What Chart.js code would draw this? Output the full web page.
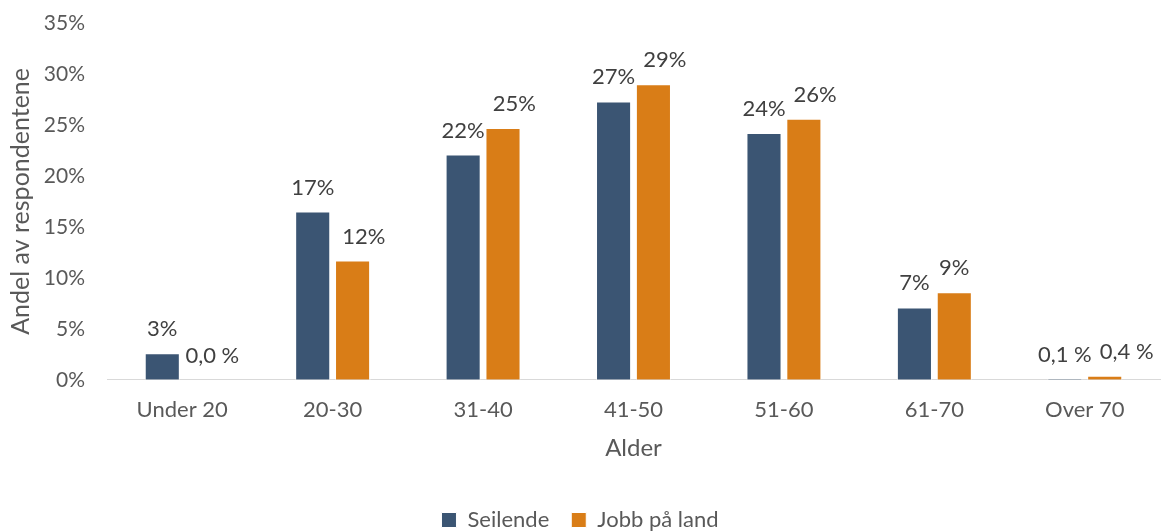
<!DOCTYPE html>
<html lang="no">
<head>
<meta charset="utf-8">
<title>Alder</title>
<script src="https://cdn.jsdelivr.net/npm/chart.js@4/dist/chart.umd.min.js"></script>
<style>
  html, body { margin: 0; padding: 0; background: #ffffff; }
  #wrap { width: 1163px; height: 531px; position: relative; }
</style>
</head>
<body>
<div id="wrap"><canvas id="alderChart"></canvas></div>
<script>
// Aldersfordeling, andel av respondentene (%)
const categories = ['Under 20', '20-30', '31-40', '41-50', '51-60', '61-70', 'Over 70'];
const seilende = [2.6, 16.5, 22.1, 27.3, 24.2, 7.1, 0.1];
const jobbPaLand = [0.0, 11.7, 24.7, 29.0, 25.6, 8.6, 0.4];
const seriesNames = ['Seilende', 'Jobb på land'];

const FONT = 'Lato, "Open Sans", sans-serif';

// små verdier vises med én desimal, ellers heltall
function formatLabel(v) {
  if (v < 1) return v.toFixed(1).replace('.', ',') + ' %';
  return Math.round(v) + '%';
}

const valueLabels = {
  id: 'valueLabels',
  afterDatasetsDraw(chart) {
    const ctx = chart.ctx;
    ctx.save();
    ctx.font = '22px ' + FONT;
    ctx.fillStyle = '#404040';
    ctx.textAlign = 'center';
    ctx.textBaseline = 'alphabetic';
    const n = chart.data.labels.length;
    for (let i = 0; i < n; i++) {
      let prevRight = -Infinity;
      chart.data.datasets.forEach((ds, di) => {
        const bar = chart.getDatasetMeta(di).data[i];
        const txt = formatLabel(ds.data[i]);
        const w = ctx.measureText(txt).width;
        let x = bar.x;
        // skyv etiketten til høyre hvis den kolliderer med forrige
        if (x - w / 2 < prevRight + 8) x = prevRight + 8 + w / 2;
        ctx.fillText(txt, x, bar.y - 17);
        prevRight = x + w / 2;
      });
    }
    ctx.restore();
  }
};

const ctx = document.getElementById('alderChart').getContext('2d');
new Chart(ctx, {
  type: 'bar',
  data: {
    labels: categories,
    datasets: [{
      label: seriesNames[0],
      data: seilende,
      backgroundColor: '#3B5573',
      borderColor: '#ffffff',
      borderWidth: 1,
      categoryPercentage: 0.53,
      barPercentage: 0.88
    }, {
      label: seriesNames[1],
      data: jobbPaLand,
      backgroundColor: '#D97D17',
      borderColor: '#ffffff',
      borderWidth: 1,
      categoryPercentage: 0.53,
      barPercentage: 0.88
    }]
  },
  options: {
    responsive: true,
    maintainAspectRatio: false,
    animation: false,
    layout: { padding: { left: 0, right: 3, top: 0, bottom: -10 } },
    scales: {
      x: {
        grid: { display: false },
        border: { color: '#D9D9D9', width: 1 },
        ticks: { color: '#595959', font: { family: FONT, size: 22 }, padding: 9 },
        title: {
          display: true,
          text: 'Alder',
          color: '#595959',
          font: { family: FONT, size: 24 },
          padding: { top: 2, bottom: 24 }
        }
      },
      y: {
        min: 0,
        max: 35,
        grid: { display: false, drawTicks: false },
        border: { display: false },
        afterFit(scale) {
          scale.width = 107;
          // tick-padding skal ikke gi ekstra luft over toppen
          scale.paddingTop = 23;
          scale.paddingBottom = 13;
        },
        ticks: {
          stepSize: 5,
          color: '#595959',
          font: { family: FONT, size: 21 },
          padding: 22,
          callback: v => v + '%'
        },
        title: {
          display: true,
          text: 'Andel av respondentene',
          color: '#595959',
          font: { family: FONT, size: 25 },
          padding: { top: 6, bottom: 0 }
        }
      }
    },
    plugins: {
      legend: {
        position: 'bottom',
        labels: {
          color: '#595959',
          font: { family: FONT, size: 22 },
          boxWidth: 15,
          boxHeight: 15,
          padding: 22
        }
      },
      tooltip: { enabled: false }
    }
  },
  plugins: [valueLabels]
});
</script>
</body>
</html>
